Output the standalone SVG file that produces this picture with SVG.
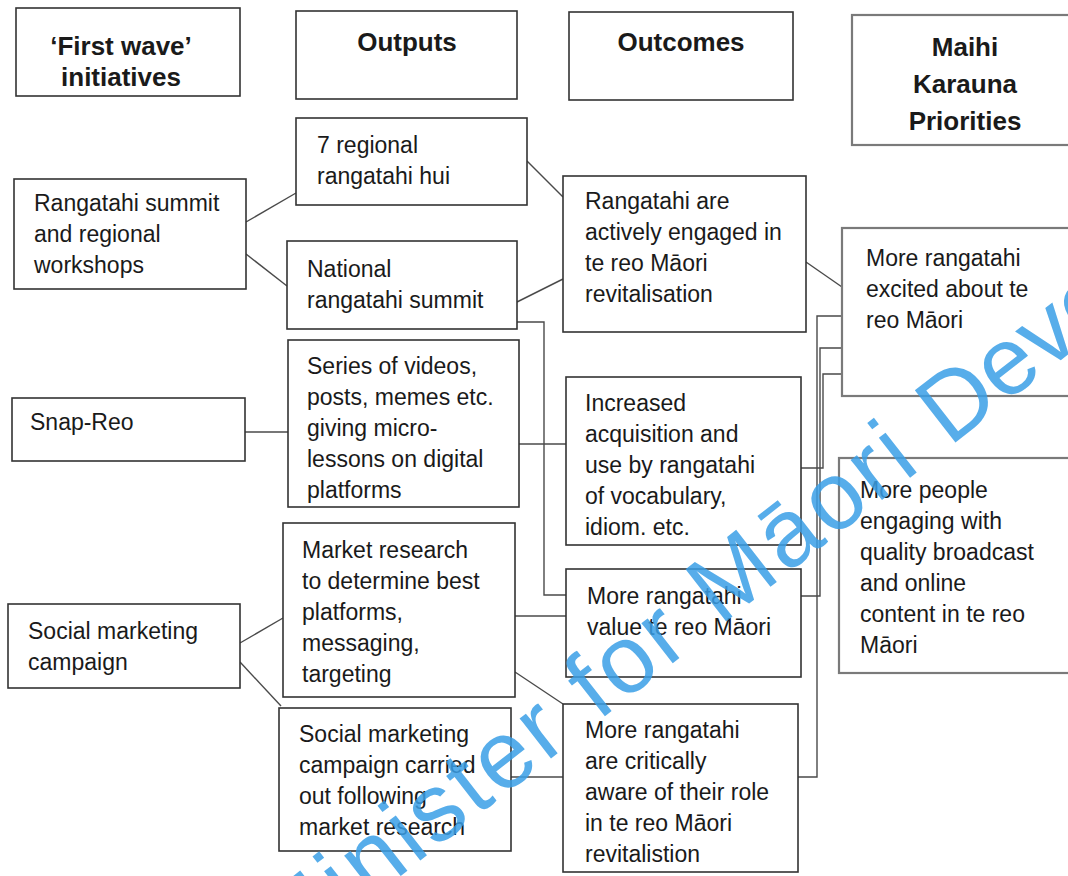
<svg xmlns="http://www.w3.org/2000/svg" width="1068" height="876" viewBox="0 0 1068 876">
<style>
.box{fill:#fff;stroke:#333;stroke-width:1.6}
.gbox{fill:#fff;stroke:#7a7a7a;stroke-width:2.2}
.t{font-family:"Liberation Sans",Arial,sans-serif;font-size:23px;fill:#1a1a1a}
.h{font-family:"Liberation Sans",Arial,sans-serif;font-size:26px;font-weight:bold;fill:#1a1a1a;text-anchor:middle}
.c{fill:none;stroke:#4a4a4a;stroke-width:1.4}
.wm{font-family:"Liberation Sans",Arial,sans-serif;font-size:96px;letter-spacing:4px;fill:#3a9fe6;fill-opacity:0.85}
</style>
<rect width="1068" height="876" fill="#fff"/>
<g id="connectors">
<path class="c" d="M246,222 L296,193"/>
<path class="c" d="M246,254 L287,286"/>
<path class="c" d="M527,161 L563,197"/>
<path class="c" d="M517,302 L563,279"/>
<path class="c" d="M517,322 H544 V595 H566"/>
<path class="c" d="M245,432 H288"/>
<path class="c" d="M519,444 H566"/>
<path class="c" d="M240,643 L283,618"/>
<path class="c" d="M240,662 L281,706"/>
<path class="c" d="M515,616 H566"/>
<path class="c" d="M515,672 L563,704"/>
<path class="c" d="M511,777 H563"/>
<path class="c" d="M806,262 L842,287"/>
<path class="c" d="M801,468 H823 V374 H842"/>
<path class="c" d="M801,596 H820 V348 H842"/>
<path class="c" d="M798,777 H817 V316 H842"/>
</g>
<g id="h1"><rect class="box" x="16" y="8" width="224" height="88"/><text class="h" x="121" y="55">‘First wave’</text><text class="h" x="121" y="86">initiatives</text></g>
<g id="h2"><rect class="box" x="296" y="11" width="221" height="88"/><text class="h" x="407" y="51">Outputs</text></g>
<g id="h3"><rect class="box" x="569" y="12" width="224" height="88"/><text class="h" x="681" y="51">Outcomes</text></g>
<g id="h4"><rect class="gbox" x="852" y="15" width="230" height="130"/><text class="h" x="965" y="56">Maihi</text><text class="h" x="965" y="93">Karauna</text><text class="h" x="965" y="130">Priorities</text></g>
<g id="n1"><rect class="box" x="14" y="179" width="232" height="110"/><text class="t" x="34" y="211">Rangatahi summit</text><text class="t" x="34" y="242">and regional</text><text class="t" x="34" y="273">workshops</text></g>
<g id="n2"><rect class="box" x="296" y="118" width="231" height="87"/><text class="t" x="317" y="153">7 regional</text><text class="t" x="317" y="184">rangatahi hui</text></g>
<g id="n3"><rect class="box" x="287" y="241" width="230" height="88"/><text class="t" x="307" y="277">National</text><text class="t" x="307" y="308">rangatahi summit</text></g>
<g id="n4"><rect class="box" x="288" y="340" width="231" height="167"/><text class="t" x="307" y="374">Series of videos,</text><text class="t" x="307" y="405">posts, memes etc.</text><text class="t" x="307" y="436">giving micro-</text><text class="t" x="307" y="467">lessons on digital</text><text class="t" x="307" y="498">platforms</text></g>
<g id="n5"><rect class="box" x="12" y="398" width="233" height="63"/><text class="t" x="30" y="430">Snap-Reo</text></g>
<g id="n6"><rect class="box" x="283" y="523" width="232" height="174"/><text class="t" x="302" y="558">Market research</text><text class="t" x="302" y="589">to determine best</text><text class="t" x="302" y="620">platforms,</text><text class="t" x="302" y="651">messaging,</text><text class="t" x="302" y="682">targeting</text></g>
<g id="n7"><rect class="box" x="8" y="604" width="232" height="84"/><text class="t" x="28" y="639">Social marketing</text><text class="t" x="28" y="670">campaign</text></g>
<g id="n8"><rect class="box" x="279" y="708" width="232" height="143"/><text class="t" x="299" y="742">Social marketing</text><text class="t" x="299" y="773">campaign carried</text><text class="t" x="299" y="804">out following</text><text class="t" x="299" y="835">market research</text></g>
<g id="o1"><rect class="box" x="563" y="176" width="243" height="156"/><text class="t" x="585" y="209">Rangatahi are</text><text class="t" x="585" y="240">actively engaged in</text><text class="t" x="585" y="271">te reo Māori</text><text class="t" x="585" y="302">revitalisation</text></g>
<g id="o2"><rect class="box" x="566" y="377" width="235" height="168"/><text class="t" x="585" y="411">Increased</text><text class="t" x="585" y="442">acquisition and</text><text class="t" x="585" y="473">use by rangatahi</text><text class="t" x="585" y="504">of vocabulary,</text><text class="t" x="585" y="535">idiom. etc.</text></g>
<g id="o3"><rect class="box" x="566" y="569" width="235" height="108"/><text class="t" x="587" y="604">More rangatahi</text><text class="t" x="587" y="635">value te reo Māori</text></g>
<g id="o4"><rect class="box" x="563" y="704" width="235" height="168"/><text class="t" x="585" y="738">More rangatahi</text><text class="t" x="585" y="769">are critically</text><text class="t" x="585" y="800">aware of their role</text><text class="t" x="585" y="831">in te reo Māori</text><text class="t" x="585" y="862">revitalistion</text></g>
<g id="p1"><rect class="gbox" x="842" y="228" width="240" height="168"/><text class="t" x="866" y="266">More rangatahi</text><text class="t" x="866" y="297">excited about te</text><text class="t" x="866" y="328">reo Māori</text></g>
<g id="p2"><rect class="gbox" x="839" y="458" width="243" height="215"/><text class="t" x="860" y="498">More people</text><text class="t" x="860" y="529">engaging with</text><text class="t" x="860" y="560">quality broadcast</text><text class="t" x="860" y="591">and online</text><text class="t" x="860" y="622">content in te reo</text><text class="t" x="860" y="653">Māori</text></g>
<g id="watermark"><text class="wm" transform="translate(284,967) rotate(-38)">Minister for Māori <tspan style="letter-spacing:0px">Development</tspan></text></g>
</svg>
